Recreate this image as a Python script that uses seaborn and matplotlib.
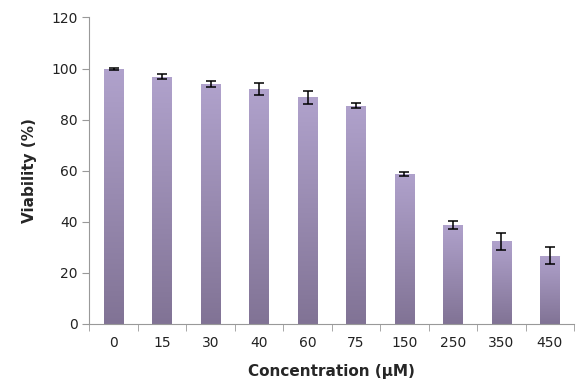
import numpy as np
import pandas as pd
import matplotlib
matplotlib.use("Agg")
import matplotlib.pyplot as plt
from matplotlib.colors import LinearSegmentedColormap
import seaborn as sns

concentrations = ["0", "15", "30", "40", "60", "75", "150", "250", "350", "450"]
viability = [99.8, 96.8, 94.0, 92.0, 88.7, 85.5, 58.8, 38.9, 32.4, 26.8]
errors = [0.3, 1.0, 1.3, 2.2, 2.5, 0.9, 0.8, 1.6, 3.3, 3.3]

df = pd.DataFrame({"Concentration": concentrations, "Viability": viability, "err": errors})

sns.set_style("white")
plt.rcParams["font.family"] = ["DejaVu Sans"]

fig = plt.figure(figsize=(5.77, 3.88), dpi=100)
ax = fig.add_axes([0.155, 0.165, 0.84, 0.79])

sns.barplot(data=df, x="Concentration", y="Viability", color="#a294bb",
            width=0.4, saturation=1, ax=ax)

# vertical gradient on each bar, lighter at the top
cmap = LinearSegmentedColormap.from_list("bar", ["#b0a2cc", "#817395"])
grad = np.linspace(0, 1, 256).reshape(-1, 1)
for p in ax.patches:
    x0, w, h = p.get_x(), p.get_width(), p.get_height()
    im = ax.imshow(grad, cmap=cmap, aspect="auto", extent=[x0, x0 + w, 0, h],
                   zorder=p.get_zorder() + 0.1)
    im.set_clip_path(p)

ax.errorbar(np.arange(len(concentrations)), df["Viability"], yerr=df["err"],
            fmt="none", ecolor="black", elinewidth=1.1, capsize=3.5, capthick=1.1, zorder=5)

ax.set_xlim(-0.5, len(concentrations) - 0.5)
ax.set_ylim(0, 120)
ax.set_yticks(range(0, 121, 20))
ax.set_xticks(np.arange(-0.5, len(concentrations), 1), minor=True)
ax.tick_params(axis="x", which="major", length=0, pad=9, labelsize=10, colors="#222222")
ax.tick_params(axis="x", which="minor", length=5, direction="out", color="#999999", bottom=True)
ax.tick_params(axis="y", length=5, direction="out", labelsize=10, left=True, colors="#222222")
ax.tick_params(axis="y", color="#999999")

for s in ["top", "right"]:
    ax.spines[s].set_visible(False)
for s in ["left", "bottom"]:
    ax.spines[s].set_color("#999999")

ax.set_xlabel("Concentration (\u03bcM)", fontsize=11, fontweight="bold", labelpad=10)
ax.set_ylabel("Viability (%)", fontsize=11, fontweight="bold", labelpad=10)

fig.savefig("out.png", dpi=100)
